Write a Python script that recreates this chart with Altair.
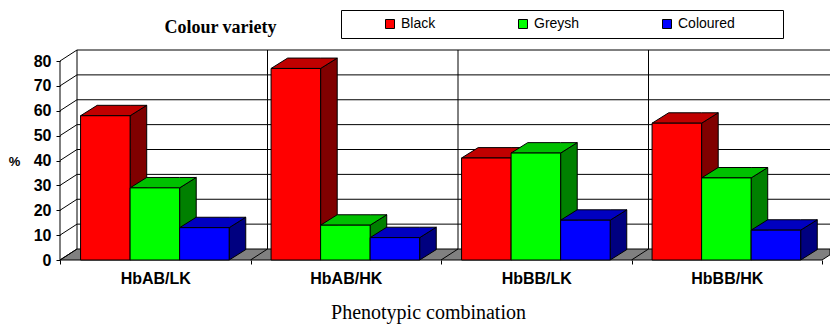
import json
import altair as alt
import pandas as pd

# ---------------- data ----------------
categories = ["HbAB/LK", "HbAB/HK", "HbBB/LK", "HbBB/HK"]
series = ["Black", "Greysh", "Coloured"]
black = [58, 77, 41, 55]
greysh = [29, 14, 43, 33]
coloured = [13, 9, 16, 12]
y_ticks = [0, 10, 20, 30, 40, 50, 60, 70, 80]

front_colors = ["#FF0000", "#00FF00", "#0000FF"]
top_colors = ["#C00000", "#00C000", "#0000C0"]
side_colors = ["#800000", "#008000", "#000080"]

title_text = "Colour variety"
x_title = "Phenotypic combination"
y_title = "%"

# ---------------- layout (pixels -> axis units) ----------------
W, H = 770, 210
PXX = 190.5          # px per category on the front plane
PXY = 2.4875         # px per % unit
XMAX = W / PXX
YMAX = H / PXY
WDX, WDY = 17 / PXX, 11 / PXY        # depth of the walls
BDX, BDY = 16.6 / PXX, 10.4 / PXY    # depth of the bars
B0, BW = 0.108, 0.26                 # first bar offset and bar width (category units)
NCAT = len(categories)
YTOP = y_ticks[-1]

values = [black, greysh, coloured]

fronts, sides, tops = [], [], []
for i, cat in enumerate(categories):
    for j, s in enumerate(series):
        v = values[j][i]
        x0 = i + B0 + j * BW
        x1 = x0 + BW
        bid = f"{i}-{j}"
        fronts.append(dict(series=s, cat=cat, x=x0, x2=x1, y=v, y2=0))
        sides += [
            dict(id=bid, x=x1, y=0, y2=v, fc=side_colors[j]),
            dict(id=bid, x=x1 + BDX, y=BDY, y2=v + BDY, fc=side_colors[j]),
        ]
        tops += [
            dict(id=bid, x=x0, y=v, y2=v, fc=top_colors[j]),
            dict(id=bid, x=x0 + BDX, y=v, y2=v + BDY, fc=top_colors[j]),
            dict(id=bid, x=x1, y=v, y2=v + BDY, fc=top_colors[j]),
            dict(id=bid, x=x1 + BDX, y=v + BDY, y2=v + BDY, fc=top_colors[j]),
        ]

# floor (truncated at the right edge of the view)
floor = [dict(id="f", x=0, y=0, y2=0),
         dict(id="f", x=WDX, y=0, y2=WDY),
         dict(id="f", x=NCAT, y=0, y2=WDY)]
if XMAX < NCAT + WDX:
    floor.append(dict(id="f", x=XMAX, y=(XMAX - NCAT) / WDX * WDY, y2=WDY))
else:
    floor.append(dict(id="f", x=NCAT + WDX, y=WDY, y2=WDY))

# wall lines
segs = [dict(x=0, y=0, x2=0, y2=YTOP)]
for t in y_ticks[1:]:
    segs.append(dict(x=0, y=t, x2=WDX, y2=t + WDY))
    segs.append(dict(x=WDX, y=t + WDY, x2=XMAX, y2=t + WDY))
for i in range(NCAT):
    xb = i + WDX
    segs.append(dict(x=xb, y=WDY, x2=xb, y2=YTOP + WDY))
    segs.append(dict(x=i, y=0, x2=xb, y2=WDY))

title_df = pd.DataFrame([dict(x=(220.5 - 60) / PXX, y=(260 - 33) / PXY, text=title_text)])

# ---------------- scales / axes ----------------
xscale = alt.Scale(domain=[0, XMAX], nice=False, zero=False)
yscale = alt.Scale(domain=[0, YMAX], nice=False, zero=False)

label_expr = f"{json.dumps(categories)}[datum.value] || ''"
xaxis = alt.Axis(
    values=list(range(NCAT + 1)), labelExpr=label_expr, labelOffset=PXX / 2,
    tickSize=4, tickColor="black", domain=False, grid=False,
    labelFont="Liberation Sans", labelFontSize=16, labelFontWeight="bold",
    labelColor="black", labelPadding=6, labelFlush=False, labelOverlap=False,
    labelBound=False,
    title=x_title, titleFont="Liberation Serif", titleFontSize=20,
    titleFontWeight="normal", titleColor="black", titleX=368, titleY=58.5,
    titleBaseline="alphabetic", titleAlign="center",
)
yaxis = alt.Axis(
    values=y_ticks, tickSize=4, tickColor="black", domain=False, grid=False,
    labelFont="Liberation Sans", labelFontSize=16, labelFontWeight="bold",
    labelColor="black", labelPadding=5, labelOverlap=False, labelFlush=False,
    title=y_title, titleAngle=0, titleX=-46, titleY=111.7,
    titleFont="Liberation Sans", titleFontSize=13, titleFontWeight="bold",
    titleColor="black", titleAlign="center", titleBaseline="middle",
)


def X(f):
    return alt.X(f, type="quantitative", scale=xscale, axis=xaxis)


def Y(f):
    return alt.Y(f, type="quantitative", scale=yscale, axis=yaxis, stack=None)


floor_layer = alt.Chart(pd.DataFrame(floor)).mark_area(
    fill="#808080", stroke="black", strokeWidth=1, interpolate="linear"
).encode(x=X("x"), y=Y("y"), y2="y2", detail="id:N")

seg_layer = alt.Chart(pd.DataFrame(segs)).mark_rule(
    color="black", strokeWidth=1
).encode(x=X("x"), y=Y("y"), x2="x2", y2="y2")

side_layer = alt.Chart(pd.DataFrame(sides)).mark_area(
    stroke="black", strokeWidth=1, interpolate="linear", opacity=1
).encode(x=X("x"), y=Y("y"), y2="y2", detail="id:N",
         fill=alt.Fill("fc:N", scale=None))

top_layer = alt.Chart(pd.DataFrame(tops)).mark_area(
    stroke="black", strokeWidth=1, interpolate="linear", opacity=1
).encode(x=X("x"), y=Y("y"), y2="y2", detail="id:N",
         fill=alt.Fill("fc:N", scale=None))

front_layer = alt.Chart(pd.DataFrame(fronts)).mark_rect(
    stroke="black", strokeWidth=1, opacity=1
).encode(
    x=X("x"), x2="x2", y=Y("y"), y2="y2",
    color=alt.Color(
        "series:N",
        scale=alt.Scale(domain=series, range=front_colors),
        sort=series,
        legend=alt.Legend(
            orient="none", legendX=281, legendY=-40, direction="horizontal",
            columns=3, columnPadding=45, symbolType="square", symbolSize=81,
            symbolStrokeColor="black", symbolStrokeWidth=1, symbolOpacity=1,
            symbolOffset=35,
            labelFont="Liberation Sans", labelFontSize=14, labelColor="black",
            labelOffset=4, padding=7, strokeColor="black",
            title=" ", titleOrient="right", titlePadding=41,
            titleFontSize=13,
        ),
    ),
)

title_layer = alt.Chart(title_df).mark_text(
    font="Liberation Serif", fontSize=18, fontWeight="bold", color="black",
    align="center", baseline="alphabetic"
).encode(x=X("x"), y=Y("y"), text="text:N")

chart = alt.layer(
    floor_layer, seg_layer, side_layer, top_layer, front_layer, title_layer
).properties(
    width=W, height=H,
    autosize=alt.AutoSizeParams(type="none"),
    padding={"left": 60, "top": 50, "right": 0, "bottom": 64},
    background="white",
).configure_view(stroke=None)

chart.save("out.html", embed_options={"renderer": "svg", "actions": False})
